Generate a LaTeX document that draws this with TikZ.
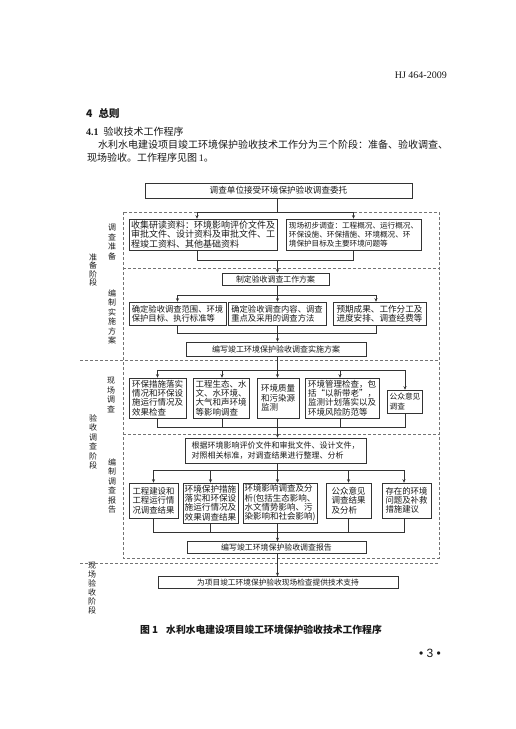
\documentclass[tikz,border=0pt]{standalone}
\usepackage{fontspec}
\setmainfont{Noto Sans CJK SC}
\newfontfamily\tnr{Liberation Serif}
\newfontfamily\arialf{Liberation Sans}
\usetikzlibrary{arrows.meta,calc}
\newcommand\fsz[1]{\fontsize{#1}{9.3}\selectfont}
\begin{document}
\begin{tikzpicture}[x=1pt,y=-1pt,
 box/.style={draw=black!80,line width=0.55pt,inner sep=1.5pt,align=left,text=black!90},
 cbox/.style={box,align=center},
 ln/.style={draw=black!80,line width=0.5pt},
 arr/.style={ln,-{Stealth[length=3.5pt,width=3pt]}},
 dsh/.style={draw=black!55,line width=0.5pt,dash pattern=on 3pt off 2pt},
 vlab/.style={align=center,inner sep=0pt,text=black!90},
 txt/.style={inner sep=0pt,text=black!90},
]
\useasboundingbox[fill=white] (0,0) rectangle (516,729);

% header and body text
\node[txt,anchor=east,font=\tnr\fontsize{10}{12}\selectfont] (hdr) at (447,75) {HJ 464-2009};
\node[txt,anchor=west,font=\bfseries\fontsize{10.5}{12}\selectfont] (sec) at (86,113) {4\hspace{6pt}总则};
\node[txt,anchor=west,font=\fontsize{10}{12}\selectfont] (sub) at (86,132) {{\tnr\bfseries 4.1}\hspace{5pt}验收技术工作程序};
\node[txt,anchor=west,font=\fontsize{10}{12}\selectfont] (p1) at (98,145) {水利水电建设项目竣工环境保护验收技术工作分为三个阶段：准备、验收调查、};
\node[txt,anchor=west,font=\fontsize{10}{12}\selectfont] (p2) at (87,158) {现场验收。工作程序见图\,{\tnr 1}。};

% dashed frames
\draw[dsh] (123,212) rectangle (439,558);
\draw[dsh] (123,268) -- (439,268);
\draw[dsh] (80,360) -- (439,360);
\draw[dsh] (123,434) -- (439,434);
\draw[dsh] (80,563) -- (439,563);

% stage labels
\node[vlab,font=\fontsize{8}{9.5}\selectfont] (l1) at (112,242) {调\\查\\准\\备};
\node[vlab,font=\fontsize{8}{8.5}\selectfont] (l2) at (93,270) {准\\备\\阶\\段};
\node[vlab,font=\fontsize{8}{9.5}\selectfont] (l3) at (112,317) {编\\制\\实\\施\\方\\案};
\node[vlab,font=\fontsize{8}{9.5}\selectfont] (l4) at (111,395) {现\\场\\调\\查};
\node[vlab,font=\fontsize{8}{9.5}\selectfont] (l5) at (93,442) {验\\收\\调\\查\\阶\\段};
\node[vlab,font=\fontsize{8}{9.5}\selectfont] (l6) at (112,486) {编\\制\\调\\查\\报\\告};
\node[vlab,font=\fontsize{8}{9}\selectfont] (l7) at (92,588) {现\\场\\验\\收\\阶\\段};

% boxes
\node[cbox,font=\fsz{8.6},minimum width=267pt,minimum height=15pt] (top) at (278.5,190.5) {调查单位接受环境保护验收调查委托};
\node[box,font=\fsz{9},minimum width=148pt,minimum height=31pt] (b1) at (203,234.5) {收集研读资料：环境影响评价文件及\\审批文件、设计资料及审批文件、工\\程竣工资料、其他基础资料};
\node[box,font=\fsz{7.6},minimum width=135pt,minimum height=31pt] (b2) at (353.5,234.5) {现场初步调查：工程概况、运行概况、\\环保设施、环保措施、环境概况、环\\境保护目标及主要环境问题等};
\node[cbox,font=\fsz{7.9},minimum width=107pt,minimum height=12pt] (plan) at (275.5,279) {制定验收调查工作方案};
\node[box,font=\fsz{8.3},minimum width=97pt,minimum height=23pt] (c1) at (177.5,313.5) {确定验收调查范围、环境\\保护目标、执行标准等};
\node[box,font=\fsz{8.3},minimum width=98pt,minimum height=23pt] (c2) at (277,313.5) {确定验收调查内容、调查\\重点及采用的调查方法};
\node[box,font=\fsz{8.6},minimum width=93pt,minimum height=23pt] (c3) at (379.5,313.5) {预期成果、工作分工及\\进度安排、调查经费等};
\node[cbox,font=\fsz{8},minimum width=180pt,minimum height=14pt] (plan2) at (276,349) {编写竣工环境保护验收调查实施方案};

\node[box,font=\fsz{8.5},minimum width=57pt,minimum height=40pt] (d1) at (157.5,398) {环保措施落实\\情况和环保设\\施运行情况及\\效果检查};
\node[box,font=\fsz{8.5},minimum width=56pt,minimum height=40pt] (d2) at (221,398) {工程生态、水\\文、水环境、\\大气和声环境\\等影响调查};
\node[box,font=\fsz{8.5},minimum width=42pt,minimum height=40pt] (d3) at (278,398) {环境质量\\和污染源\\监测};
\node[box,font=\fsz{8.5},minimum width=74pt,minimum height=40pt] (d4) at (342,398) {环境管理检查，包\\括“以新带老”，\\监测计划落实以及\\环境风险防范等};
\node[box,font=\fsz{7.7},minimum width=35pt,minimum height=23pt] (d5) at (405,401.5) {公众意见\\调查};

\node[box,font=\fsz{8},minimum width=181pt,minimum height=25pt] (e) at (275.5,450.5) {根据环境影响评价文件和审批文件、设计文件，\\对照相关标准，对调查结果进行整理、分析};

\node[box,font=\fsz{8.4},minimum width=49pt,minimum height=35pt] (f1) at (153.5,500.5) {工程建设和\\工程运行情\\况调查结果};
\node[box,font=\fsz{8.6},minimum width=55pt,minimum height=40pt] (f2) at (210.5,503) {环境保护措施\\落实和环保设\\施运行情况及\\效果调查结果};
\node[box,font=\fsz{8.5},minimum width=74pt,minimum height=40pt] (f3) at (280,503) {环境影响调查及分\\析(包括生态影响、\\水文情势影响、污\\染影响和社会影响)};
\node[box,font=\fsz{8.5},minimum width=45pt,minimum height=35pt] (f4) at (348.5,500.5) {公众意见\\调查结果\\及分析};
\node[box,font=\fsz{8.4},minimum width=49pt,minimum height=35pt] (f5) at (406.5,500.5) {存在的环境\\问题及补救\\措施建议};

\node[cbox,font=\fsz{7.9},minimum width=179pt,minimum height=12pt] (g) at (276.5,547.5) {编写竣工环境保护验收调查报告};
\node[cbox,font=\fsz{7.7},minimum width=240pt,minimum height=12pt] (h) at (278,582.5) {为项目竣工环境保护验收现场检查提供技术支持};

% connectors
\coordinate (j1) at (277.5,212);
\draw[ln] (top.south -| j1) -- (j1);
\draw[arr] (j1) -| ($(b1.north)+(-6,0)$);
\draw[arr] (j1) -| (b2.north);
\coordinate (j2) at (277.5,260);
\draw[ln] ($(b1.south)+(-6,0)$) |- (j2);
\draw[ln] (b2.south) |- (j2);
\draw[arr] (j2) -- (j2 |- plan.north);

\coordinate (j3) at (277.5,295);
\draw[ln] (plan.south -| j3) -- (j3);
\draw[arr] (j3) -| (c1.north);
\draw[arr] (j3) -- (j3 |- c2.north);
\draw[arr] (j3) -| ($(c3.north)+(-3.5,0)$);
\coordinate (j4) at (277.5,333);
\draw[ln] (c1.south) |- (j4);
\draw[ln] ($(c3.south)+(-3.5,0)$) |- (j4);
\draw[ln] (c2.south -| j4) -- (j4);
\draw[arr] (j4) -- (j4 |- plan2.north);

\coordinate (j5) at (277.5,370);
\draw[ln] (plan2.south -| j5) -- (j5);
\draw[arr] (j5) -| (d1.north);
\draw[arr] (j5) -| ($(d2.north)+(1,0)$);
\draw[arr] (j5) -- (j5 |- d3.north);
\draw[arr] (j5) -| ($(d4.north)+(-2,0)$);
\draw[arr] (j5) -| (d5.north);
\coordinate (j6) at (277.5,427);
\draw[ln] (d1.south) |- (j6);
\draw[ln] ($(d2.south)+(1,0)$) |- (j6);
\draw[ln] (d3.south -| j6) -- (j6);
\draw[ln] ($(d4.south)+(-2,0)$) |- (j6);
\draw[ln] (d5.south) |- (j6);
\draw[arr] (j6) -- (j6 |- e.north);

\coordinate (j7) at (277.5,470);
\draw[ln] (e.south -| j7) -- (j7);
\draw[arr] (j7) -| (f1.north);
\draw[arr] (j7) -| (f2.north);
\draw[arr] (j7) -- (j7 |- f3.north);
\draw[arr] (j7) -| (f4.north);
\draw[arr] (j7) -| ($(f5.north)+(-2.5,0)$);
\coordinate (j8) at (277.5,532);
\draw[ln] (f1.south) |- (j8);
\draw[ln] (f2.south) |- (j8);
\draw[ln] (f3.south -| j8) -- (j8);
\draw[ln] (f4.south) |- (j8);
\draw[ln] ($(f5.south)+(-2.5,0)$) |- (j8);
\draw[arr] (j8) -- (j8 |- g.north);
\draw[arr] (g.south -| j8) -- (j8 |- h.north);

% caption and page number
\node[txt,font=\bfseries\fontsize{9.8}{12}\selectfont] (cap) at (261,630) {图 1\hspace{8pt}水利水电建设项目竣工环境保护验收技术工作程序};
\node[txt,font=\arialf\fontsize{12}{14}\selectfont] (pg) at (430,653) {• 3 •};
\end{tikzpicture}
\end{document}
